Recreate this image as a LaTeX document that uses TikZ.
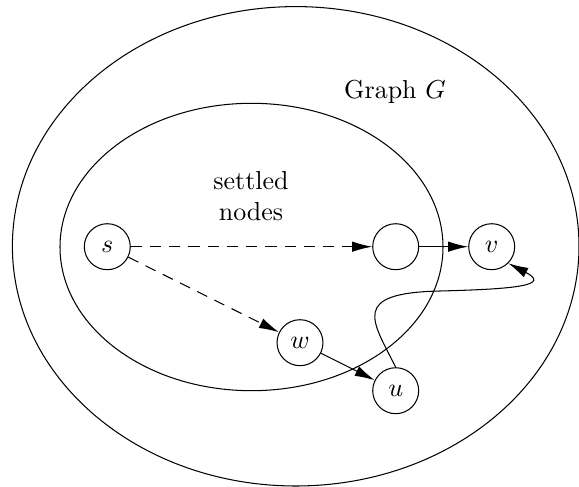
\documentclass[tikz,border=0pt]{standalone}
\usetikzlibrary{arrows.meta}
\begin{document}
\begin{tikzpicture}[x=0.385pt,y=-0.385pt,
  vert/.style={circle,draw,minimum size=17.7pt,inner sep=0pt},
  arr/.style={-{Latex[length=7.7pt,width=4pt]}},
  dash arr/.style={arr,dash pattern=on 4.3pt off 3.1pt}]
\useasboundingbox (0,0) rectangle (579,487);
\draw (295.7,246.3) ellipse [x radius=283.3,y radius=239.7];
\draw (251.5,247) ellipse [x radius=191.5,y radius=143.7];
\node (graph) at (395,92) {Graph $G$};
\node[align=center] (settled) at (251,196) {settled\\nodes};
\node[vert] (s) at (107.3,246.7) {$s$};
\node[vert] (m) at (395.7,246.7) {};
\node[vert] (v) at (491.7,246.7) {$v$};
\node[vert] (w) at (300,342.7) {$w$};
\node[vert] (u) at (395.7,390.7) {$u$};
\draw[dash arr] (s) -- (m);
\draw[dash arr] (s) -- (w);
\draw[arr] (m) -- (v);
\draw[arr] (w) -- (u);
\draw[arr] (u.north) .. controls (372,320) and (350,293) .. (440,291)
  .. controls (520,289) and (550,285) .. (v.-45);
\end{tikzpicture}
\end{document}
